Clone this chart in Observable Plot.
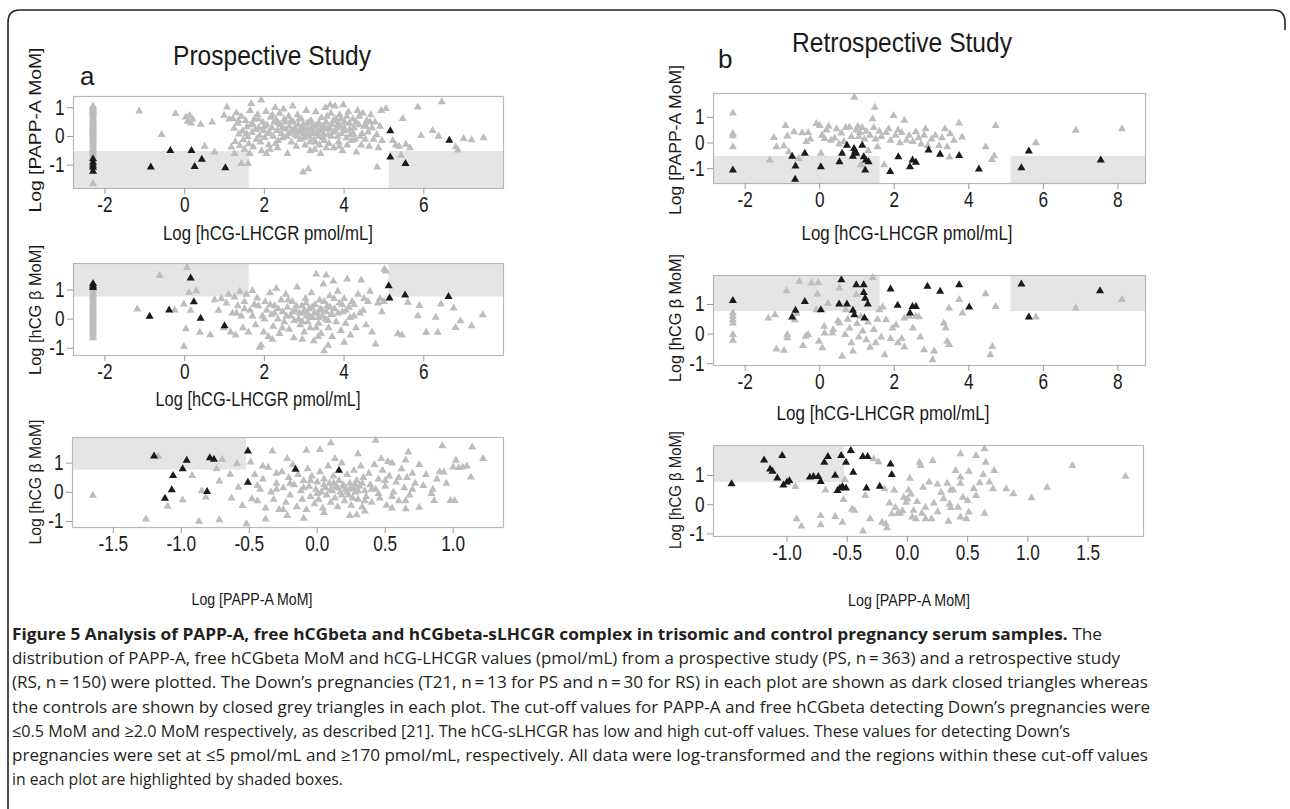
<!DOCTYPE html>
<html><head><meta charset="utf-8">
<script src="https://cdn.jsdelivr.net/npm/d3@7"></script>
<script src="https://cdn.jsdelivr.net/npm/@observablehq/plot@0.6"></script>
<style>
html,body{margin:0;padding:0;background:#fff;}
body{width:1290px;height:809px;overflow:hidden;position:relative;}
svg.overlay{position:absolute;left:0;top:0;pointer-events:none;}
</style></head>
<body>
<div id="root"></div>
<script>
// ---------------- DATA ----------------
// cut-off values (log scale) as read from the shaded boxes
const PAPP_CUT = -0.52;
const HCG_CUT = 0.76;
const LH_LOW = 1.62;
const LH_HIGH = 5.13;

// Tick labels
const lhTicksA = [-2, 0, 2, 4, 6];
const lhTicksB = [-2, 0, 2, 4, 6, 8];
const pappTicksA = [-1.5, -1.0, -0.5, 0.0, 0.5, 1.0];
const pappTicksB = [-1.0, -0.5, 0.0, 0.5, 1.0, 1.5];
const yTicks = [-1, 0, 1];

// Panel a (top): x = Log hCG-LHCGR, y = Log PAPP-A MoM ; controls
const a1Ctrl = [
 [-2.3,1.05],[-2.3,1.0],[-2.3,0.95],[-2.3,0.9],[-2.3,0.85],[-2.3,0.8],[-2.3,0.75],[-2.3,0.7],[-2.3,0.62],[-2.3,0.55],[-2.3,0.5],[-2.3,0.45],[-2.3,0.4],[-2.3,0.35],[-2.3,0.3],[-2.3,0.25],[-2.3,0.2],[-2.3,0.15],[-2.3,0.1],[-2.3,0.05],[-2.3,0],[-2.3,-0.05],[-2.3,-0.1],[-2.3,-0.18],[-2.3,-0.25],[-2.3,-0.3],[-2.3,-0.38],[-2.3,-0.45],[-2.3,-0.52],[-2.3,-0.6],[-2.3,-0.68],[-2.3,-1.63],
 [-1.14,0.88],[-0.58,0.06],[-0.23,0.79],[0.03,0.67],[0.08,0.52],[0.12,0.72],[0.16,0.46],[0.2,0.6],[0.4,0.42],[0.5,-0.35],[0.69,0.5],[0.75,-0.55],[0.99,0.73],[1.06,1.02],[1.12,0.6],[1.17,-0.37],[1.25,-0.6],[1.42,-0.95],[1.59,-0.95],[1.63,-0.6],[1.67,1.14],[1.92,1.26],
 [1.21,0.62],[1.24,0.28],[1.27,-0.18],[1.3,0.82],[1.33,0.45],[1.36,0.08],[1.38,-0.32],[1.42,0.7],[1.45,0.18],[1.47,-0.12],[1.5,-0.45],[1.53,0.55],[1.56,0.33],[1.58,-0.02],[1.61,-0.26],[1.64,0.9],[1.66,0.4],[1.69,0.14],[1.72,-0.36],[1.75,0.6],[1.78,0.24],[1.8,-0.1],[1.83,0.76],[1.86,0.3],[1.88,0.04],[1.9,-0.2],[1.93,-0.5],[1.96,0.5],[1.98,0.2],[2.01,-0.04],[2.04,0.86],[2.06,0.4],[2.09,0.1],[2.11,-0.3],[2.14,-0.45],[2.16,0.66],[2.19,0.3],[2.22,0.0],[2.24,0.5],[2.27,1.0],[2.3,0.56],[2.32,0.2],[2.35,-0.15],[2.38,0.8],[2.4,0.4],[2.43,0.1],[2.46,-0.05],[2.48,0.95],[2.5,0.6],[2.53,0.25],[2.56,0.0],[2.58,-0.6],[2.61,0.7],[2.63,0.35],[2.66,0.15],[2.68,-0.2],[2.71,1.05],[2.73,0.5],[2.76,0.3],[2.78,0.05],[2.8,-0.35],[2.83,0.75],[2.85,0.4],[2.88,0.2],[2.9,-0.1],[2.93,0.6],[2.95,0.3],[2.98,0.1],[3.0,-0.05],[3.02,-0.3],[3.05,0.9],[3.07,0.45],[3.1,0.25],[3.12,0.0],[3.14,-0.2],[3.17,0.55],[3.19,0.3],[3.22,0.15],[3.24,-0.1],[3.26,-0.45],[3.29,0.85],[3.31,0.4],[3.34,0.2],[3.36,0.0],[3.38,-0.3],[3.41,-0.6],[3.43,0.65],[3.46,0.35],[3.48,0.1],[3.5,-0.15],[3.53,1.0],[3.55,0.5],[3.58,0.25],[3.6,0.05],[3.62,-0.25],[3.65,1.1],[3.67,0.8],[3.7,0.4],[3.72,0.15],[3.74,-0.4],[3.77,1.05],[3.79,0.6],[3.82,0.3],[3.84,0.0],[3.86,-0.2],[3.89,0.75],[3.91,0.35],[3.94,0.1],[3.96,-0.5],[3.98,1.1],[4.01,0.5],[4.03,0.2],[4.06,-0.05],[4.08,-0.3],[4.11,0.85],[4.13,0.45],[4.16,0.05],[4.19,-0.15],[4.22,0.6],[4.25,0.3],[4.28,-0.1],[4.31,-0.55],[4.34,0.9],[4.37,0.4],[4.4,0.0],[4.43,-0.3],[4.47,0.8],[4.5,0.35],[4.53,-0.1],[4.57,0.55],[4.6,0.15],[4.63,-0.35],[4.67,0.75],[4.7,0.3],[4.74,-0.1],[4.78,0.5],[4.82,0.05],[4.86,-0.4],[4.9,0.35],[4.95,-0.15],
 [2.97,-1.24],[3.1,-1.13],[4.83,-1.07],[4.93,0.9],[5.05,0.97],[5.47,0.62],[5.3,-0.3],[5.38,-0.35],[5.55,-0.28],[5.65,-0.4],[5.43,-0.66],[5.22,-0.15],[5.85,1.02],[5.93,0.03],[6.22,0.2],[6.37,0.0],[6.45,1.2],[6.8,-0.36],[6.86,-0.48],[7.0,-0.08],[7.2,-0.12],[7.5,-0.05]
];
const a1CtrlDense = [[1.35,0.55],[1.55,0.1],[1.7,0.45],[1.85,0.6],[2.0,0.35],[2.12,0.15],[2.2,0.75],[2.28,-0.25],[2.36,0.45],[2.45,0.3],[2.52,0.5],[2.6,0.1],[2.67,0.55],[2.75,0.2],[2.82,0.0],[2.87,0.6],[2.92,0.15],[2.97,0.4],[3.03,0.2],[3.08,0.05],[3.13,0.5],[3.18,0.1],[3.23,0.35],[3.28,-0.2],[3.33,0.1],[3.37,0.45],[3.42,0.2],[3.47,-0.05],[3.52,0.3],[3.57,0.7],[3.63,0.3],[3.68,0.0],[3.73,0.55],[3.78,0.2],[3.85,0.45],[3.92,0.6],[4.0,0.3],[4.07,0.7],[4.15,0.25],[4.23,0.1],[4.3,0.5],[4.38,0.7],[4.45,0.1],[4.55,0.35],[4.65,0.5],[2.05,-0.6],[2.33,-0.4],[3.15,-0.5],[3.55,-0.4],[3.88,-0.35]];
const a1T21 = [[-2.3,-0.78],[-2.3,-0.9],[-2.3,-1.0],[-2.3,-1.08],[-2.3,-1.22],[-0.85,-1.07],[-0.36,-0.49],[0.17,-0.49],[0.25,-1.05],[0.43,-0.8],[1.02,-1.09],[5.16,0.19],[5.16,-0.72],[5.54,-0.95],[6.64,-0.14]];

// Panel a (middle): x = Log hCG-LHCGR, y = Log hCG beta MoM
const a2Ctrl = [
 [-2.3,1.0],[-2.3,0.92],[-2.3,0.85],[-2.3,0.78],[-2.3,0.7],[-2.3,0.62],[-2.3,0.55],[-2.3,0.48],[-2.3,0.42],[-2.3,0.35],[-2.3,0.28],[-2.3,0.22],[-2.3,0.15],[-2.3,0.08],[-2.3,0.02],[-2.3,-0.05],[-2.3,-0.12],[-2.3,-0.2],[-2.3,-0.28],[-2.3,-0.35],[-2.3,-0.42],[-2.3,-0.5],[-2.3,-0.58],[-2.3,-0.65],
 [-1.19,0.34],[-0.63,1.49],[-0.25,0.31],[-0.02,-0.95],[0.03,-0.34],[0.06,1.77],[-0.02,0.51],[0.11,0.91],[0.29,0.97],[0.15,0.3],[0.38,-0.46],[0.64,-0.54],[0.75,0.66],[0.85,0.3],[0.92,0.7],[0.98,-0.3],[1.05,0.55],[1.1,0.85],[1.15,-0.45],[1.2,0.2],[1.25,0.75],[1.28,-0.55],[1.33,0.45],[1.38,0.95],[1.42,0.1],[1.46,-0.3],[1.5,0.6],[1.55,0.85],[1.6,-0.45],[1.64,0.3],[1.7,0.98],[1.75,0.5],[1.78,-0.2],[1.82,0.72],[1.88,-0.97],[1.92,-0.9],[1.95,0.1],[1.98,-0.45],[2.02,0.6],[2.06,0.3],[2.1,-0.6],[2.14,0.9],[2.18,0.15],[2.22,-0.25],[2.26,0.45],[2.3,1.05],[2.34,0.0],[2.38,-0.5],[2.42,0.65],[2.46,0.25],[2.5,-0.1],[2.54,0.85],[2.58,0.4],[2.62,-0.35],[2.66,0.1],[2.7,0.6],[2.74,-0.65],[2.78,0.3],[2.82,1.1],[2.86,0.0],[2.9,-0.2],[2.94,0.45],[2.97,0.2],[3.0,-0.45],[3.03,0.7],[3.06,0.1],[3.09,-0.1],[3.12,0.35],[3.15,-0.3],[3.18,0.9],[3.21,0.05],[3.24,-0.75],[3.27,0.5],[3.3,1.54],[3.33,0.2],[3.36,-0.15],[3.39,0.65],[3.42,-0.5],[3.45,0.3],[3.48,1.2],[3.5,-1.09],[3.53,0.0],[3.55,1.51],[3.58,0.45],[3.61,-0.3],[3.64,0.8],[3.67,0.15],[3.7,-0.6],[3.73,1.3],[3.76,0.35],[3.8,-0.1],[3.84,0.95],[3.88,0.55],[3.92,-0.4],[3.96,0.25],[4.0,0.7],[4.04,-0.15],[4.08,1.37],[4.12,0.4],[4.16,-0.55],[4.2,0.6],[4.25,0.1],[4.3,-0.3],[4.35,0.85],[4.43,1.34],[4.48,0.3],[4.55,-0.2],[4.6,0.6],[4.65,0.95],[4.7,-0.45],[4.79,-0.86],[4.85,0.55],[4.9,0.7],[4.95,0.25],[5.01,1.71],[5.05,1.65],[5.0,0.6],[5.35,-0.51],[5.45,-0.55],[5.6,0.57],[5.89,0.46],[5.85,0.11],[6.06,-0.46],[6.3,0.06],[6.35,-0.46],[6.43,0.51],[6.75,0.38],[6.92,-0.06],[6.8,-0.29],[7.2,-0.23],[7.48,0.14]
];
const a2CtrlDense = [[1.3,0.2],[1.5,0.35],[1.7,0.1],[1.85,0.45],[2.0,0.0],[2.15,0.5],[2.25,0.2],[2.35,0.35],[2.45,-0.3],[2.55,0.1],[2.6,0.65],[2.7,0.25],[2.75,-0.05],[2.8,0.45],[2.88,0.2],[2.95,-0.1],[3.0,0.3],[3.05,0.55],[3.1,0.15],[3.15,0.05],[3.2,0.4],[3.25,0.2],[3.3,-0.3],[3.35,0.05],[3.4,0.35],[3.45,0.1],[3.5,0.6],[3.55,0.25],[3.6,-0.05],[3.65,0.4],[3.7,0.15],[3.75,0.7],[3.85,0.2],[3.95,0.5],[4.05,0.3],[4.15,0.05],[4.25,0.5],[4.4,0.2],[4.5,0.7],[2.2,-0.7],[2.95,-0.7],[3.35,-0.6],[3.6,-0.9],[4.0,-0.8]];
const a2T21 = [[-2.3,1.22],[-2.3,1.14],[-2.3,1.08],[-0.88,0.09],[-0.39,0.31],[0.15,1.41],[0.23,0.59],[0.4,0.02],[1.0,-0.23],[5.12,1.14],[5.14,0.72],[5.53,0.82],[6.62,0.77]];

// Panel a (bottom): x = Log PAPP-A MoM, y = Log hCG beta MoM
const a3Ctrl = [
 [-1.65,-0.11],[-1.26,-0.92],[-1.17,1.23],[-1.1,-0.49],[-0.99,-0.26],[-0.92,0.57],[-0.87,-1.0],[-0.85,0.05],[-0.82,-0.17],[-0.74,0.8],[-0.72,-0.95],[-0.72,0.38],[-0.7,1.13],[-0.64,0.61],[-0.63,-0.2],[-0.59,0.98],[-0.58,0.17],[-0.55,-0.46],[-0.52,-1.09],[-0.49,1.03],[-0.48,-0.23],[-0.44,0.23],[-0.38,-0.92],[-0.33,1.41],[-0.3,0.65],[-0.22,1.15],[-0.22,-0.8],[-0.1,-0.9],[-0.08,1.44],[0.02,1.46],[0.13,1.15],[0.1,1.69],[0.24,-0.8],[0.29,-0.78],[0.3,1.32],[0.43,1.78],[0.47,1.15],[0.52,1.05],[0.67,1.38],[0.65,-0.57],[0.75,-0.52],[0.78,0.23],[0.84,-0.05],[0.86,-0.29],[0.92,1.59],[0.98,-0.29],[1.01,-0.29],[1.02,1.09],[1.0,0.86],[1.04,0.84],[1.07,0.86],[1.1,0.9],[1.13,0.52],[1.14,1.55],[1.22,1.15],[0.93,0.69],[0.88,0.45],[0.95,0.3],
 [-0.46,0.6],[-0.44,-0.3],[-0.42,0.1],[-0.4,0.45],[-0.38,-0.55],[-0.36,0.85],[-0.34,0.0],[-0.32,-0.25],[-0.3,0.3],[-0.28,-0.6],[-0.26,0.7],[-0.25,0.15],[-0.23,-0.35],[-0.21,0.5],[-0.2,-0.1],[-0.18,0.95],[-0.17,0.25],[-0.15,-0.5],[-0.14,0.6],[-0.12,0.05],[-0.11,-0.25],[-0.1,0.4],[-0.08,-0.6],[-0.07,0.8],[-0.06,0.2],[-0.05,-0.15],[-0.04,0.55],[-0.02,-0.4],[-0.01,0.1],[0.0,0.35],[0.01,-0.25],[0.02,0.7],[0.03,0.0],[0.04,-0.55],[0.05,0.45],[0.06,0.15],[0.07,-0.1],[0.08,0.9],[0.09,0.3],[0.1,-0.35],[0.11,0.05],[0.12,0.55],[0.13,-0.2],[0.14,0.2],[0.15,-0.5],[0.16,0.4],[0.17,0.0],[0.18,1.0],[0.19,0.25],[0.2,-0.3],[0.21,0.1],[0.22,0.6],[0.23,-0.1],[0.24,0.3],[0.25,-0.45],[0.26,0.15],[0.27,0.75],[0.28,0.0],[0.29,0.4],[0.3,-0.25],[0.31,0.2],[0.32,0.9],[0.33,-0.5],[0.34,0.5],[0.35,0.05],[0.36,-0.15],[0.38,0.65],[0.39,0.25],[0.4,-0.35],[0.42,0.95],[0.43,0.1],[0.45,0.45],[0.46,-0.2],[0.48,0.75],[0.5,0.2],[0.51,-0.45],[0.53,0.55],[0.55,1.0],[0.56,0.0],[0.58,0.35],[0.6,-0.3],[0.62,0.8],[0.64,0.15],[0.66,0.5],[0.68,-0.1],[0.7,0.65],[0.72,0.3]
];
const a3CtrlDense = [[-0.3,0.1],[-0.2,0.3],[-0.1,0.15],[-0.05,0.4],[0.0,-0.05],[0.05,0.25],[0.1,0.1],[0.12,0.3],[0.15,0.15],[0.18,-0.1],[0.2,0.2],[0.22,0.0],[0.24,0.1],[0.26,-0.2],[0.28,0.25],[0.3,0.05],[0.33,0.3],[0.35,-0.3],[0.4,0.1],[0.45,-0.05],[0.5,0.4],[0.55,-0.15],[0.6,0.5],[0.65,-0.3],[0.7,0.1],[0.8,0.6],[0.85,0.1],[0.9,0.7],[-0.25,-0.6],[0.05,-0.7],[0.35,-0.65],[0.55,-0.55],[-0.4,0.9],[0.75,0.95],[0.65,1.1]];
const a3T21 = [[-1.2,1.24],[-1.12,-0.21],[-1.07,0.08],[-1.06,0.57],[-0.99,0.8],[-0.96,1.09],[-0.81,0.02],[-0.79,1.18],[-0.76,1.13],[-0.51,0.34],[-0.51,1.41],[-0.16,0.78],[0.16,0.75]];

// Panel b (top)
const b1Ctrl = [
 [-2.33,1.16],[-2.33,0.36],[-2.33,0.28],[-2.33,-0.15],[-1.34,-0.67],[-1.23,0.21],[-1.16,-0.15],[-0.92,0.68],[-0.96,-0.12],[-0.87,0.27],[-0.83,-0.35],[-0.69,0.43],[-0.56,-0.61],[-0.47,0.39],[-0.31,0.4],[-0.36,0.05],[-0.25,0.15],[-0.09,0.75],[0.0,0.68],[0.03,-0.41],[0.06,0.3],[0.13,0.17],[0.18,0.5],[0.24,0.65],[0.3,0.1],[0.4,0.19],[0.45,0.55],[0.52,-0.05],[0.58,0.38],[0.65,0.05],[0.7,0.6],[0.8,0.62],[0.85,0.25],[0.93,1.78],[0.98,0.5],[1.02,0.65],[1.05,0.25],[1.08,0.4],[1.11,-0.86],[1.14,0.6],[1.2,0.15],[1.25,0.45],[1.3,-0.3],[1.35,0.3],[1.42,0.94],[1.45,0.6],[1.48,1.39],[1.5,0.15],[1.55,-0.15],[1.6,0.45],[1.65,0.25],[1.73,-0.86],[1.78,0.4],[1.85,0.55],[1.9,0.1],[1.98,1.07],[2.03,0.3],[2.1,0.5],[2.15,0.0],[2.2,0.4],[2.27,0.88],[2.33,0.1],[2.4,0.3],[2.5,0.05],[2.58,0.43],[2.65,0.2],[2.72,-0.05],[2.8,0.3],[2.84,0.55],[2.9,-0.1],[3.0,0.15],[3.1,0.3],[3.2,-0.1],[3.28,0.2],[3.36,0.55],[3.42,-0.15],[3.5,0.35],[3.48,-0.55],[3.6,0.1],[3.74,0.77],[3.82,0.23],[4.45,-0.15],[4.62,-0.65],[4.68,-0.5],[4.72,0.68],[5.8,0.0],[6.87,0.49],[8.11,0.55]
];
const b1T21 = [[-2.33,-1.06],[-0.74,-0.52],[-0.65,-0.9],[-0.66,-1.42],[-0.4,-0.41],[0.03,-0.93],[0.53,-0.74],[0.6,-0.41],[0.73,-0.09],[0.89,-0.52],[0.92,-0.22],[0.95,-0.32],[0.98,-0.41],[1.14,-0.09],[1.18,-0.54],[1.24,-0.67],[1.31,-0.74],[1.22,-1.06],[1.89,-1.12],[2.11,-0.54],[2.42,-0.93],[2.49,-0.67],[2.58,-0.76],[2.92,-0.28],[3.23,-0.45],[3.74,-0.49],[4.27,-1.02],[5.41,-0.97],[5.61,-0.32],[7.54,-0.67]];

// Panel b (middle)
const b2Ctrl = [
 [-2.33,0.71],[-2.33,0.6],[-2.33,0.48],[-2.33,0.37],[-2.33,-0.02],[-2.33,-0.21],[-1.38,0.54],[-1.2,0.65],[-1.16,-0.51],[-0.96,-0.55],[-0.89,1.46],[-0.87,-0.02],[-0.87,-0.13],[-0.67,0.48],[-0.62,0.7],[-0.55,1.78],[-0.45,-0.39],[-0.38,-0.08],[-0.31,-0.02],[-0.22,1.72],[-0.04,1.74],[-0.06,1.35],[-0.09,0.82],[-0.02,-0.25],[0.07,-0.47],[0.12,0.26],[0.13,0.03],[0.22,1.04],[0.34,0.03],[0.36,0.15],[0.49,0.45],[0.53,0.37],[0.53,1.55],[0.6,-0.75],[0.68,-0.02],[0.7,0.82],[0.75,0.5],[0.8,0.2],[0.85,-0.3],[0.89,-0.58],[0.98,1.33],[1.0,0.35],[1.05,-0.1],[1.1,0.6],[1.15,0.1],[1.25,-0.2],[1.3,0.4],[1.35,-0.45],[1.42,1.91],[1.45,0.15],[1.5,-0.3],[1.55,0.5],[1.6,0.82],[1.65,-0.1],[1.69,0.91],[1.74,-0.7],[1.78,0.48],[1.9,-0.15],[1.95,0.2],[2.05,0.3],[2.1,-0.3],[2.2,-0.15],[2.27,0.54],[2.27,-0.44],[2.4,0.6],[2.5,0.2],[2.58,0.6],[2.66,0.58],[2.7,-0.1],[2.8,-0.53],[3.03,-0.87],[3.07,-0.58],[3.38,0.2],[3.33,0.37],[3.42,-0.25],[3.47,-0.36],[3.47,0.88],[3.74,1.16],[3.83,0.71],[4.45,1.36],[4.58,-0.7],[4.63,-0.42],[4.72,0.93],[5.8,0.57],[6.87,0.88],[8.11,1.16]
];
const b2T21 = [[-2.33,1.13],[-0.74,0.57],[-0.65,0.8],[-0.4,1.1],[0.03,0.82],[0.52,1.01],[0.58,1.83],[0.73,1.01],[0.89,0.8],[0.93,0.65],[0.98,1.66],[1.18,1.66],[1.18,1.4],[1.22,1.21],[1.29,1.01],[1.2,0.54],[1.9,1.52],[2.09,0.97],[2.42,0.71],[2.49,0.93],[2.58,0.93],[2.89,1.61],[3.23,1.44],[3.74,1.66],[4.01,0.91],[5.41,1.69],[5.61,0.57],[7.52,1.46]];

// Panel b (bottom)
const b3Ctrl = [
 [-0.92,-0.49],[-0.88,-0.74],[-0.93,0.62],[-0.72,-0.38],[-0.72,-0.69],[-0.68,0.5],[-0.6,-0.41],[-0.54,-0.61],[-0.53,0.17],[-0.52,0.86],[-0.46,-0.15],[-0.44,-0.2],[-0.37,-0.91],[-0.35,0.31],[-0.31,-0.49],[-0.28,1.57],[-0.24,1.47],[-0.21,-0.61],[-0.19,0.54],[-0.18,-0.66],[-0.17,-0.8],[-0.13,-0.32],[-0.11,0.5],[-0.08,-0.3],[-0.04,-0.21],[-0.03,0.25],[-0.01,0.08],[0.0,0.2],[0.02,0.9],[0.01,0.5],[0.03,0.36],[0.04,-0.43],[0.07,-0.49],[0.1,1.45],[0.11,1.34],[0.13,0.59],[0.15,-0.09],[0.15,-0.49],[0.18,0.77],[0.2,-0.49],[0.21,1.51],[0.25,0.7],[0.28,0.42],[0.33,0.73],[0.35,0.02],[0.36,-0.1],[0.34,-0.57],[0.36,0.5],[0.38,0.5],[0.4,1.17],[0.42,-0.09],[0.44,0.73],[0.44,0.94],[0.44,1.74],[0.44,-0.43],[0.49,-0.49],[0.5,0.14],[0.51,-0.26],[0.51,1.14],[0.57,0.31],[0.57,1.68],[0.63,1.03],[0.64,1.91],[0.65,1.45],[0.64,-0.3],[0.68,0.77],[0.71,0.54],[0.72,1.17],[0.82,0.54],[0.88,0.37],[1.03,0.23],[1.16,0.59],[1.37,1.34],[1.81,0.97],
 [-0.1,-0.1],[-0.06,-0.3],[0.05,-0.2],[0.08,0.1],[0.12,-0.3],[0.22,0.05],[0.25,-0.25],[0.3,0.2],[-0.15,0.05],[0.46,0.25],[0.55,0.55],[0.6,0.75]
];
const b3T21 = [[-1.46,0.71],[-1.19,1.53],[-1.14,1.22],[-1.12,1.14],[-1.08,0.91],[-1.04,1.68],[-1.03,0.67],[-1.0,0.77],[-0.98,0.82],[-0.81,0.94],[-0.78,0.96],[-0.74,0.96],[-0.72,0.79],[-0.69,1.45],[-0.66,1.65],[-0.6,1.0],[-0.58,0.48],[-0.56,0.57],[-0.54,0.62],[-0.51,0.57],[-0.55,1.68],[-0.51,1.45],[-0.47,1.85],[-0.45,1.11],[-0.37,1.65],[-0.33,1.65],[-0.34,0.57],[-0.23,0.63],[-0.14,1.39],[-0.13,1.03]];

// ---------------- DRAWING ----------------
const SANS = "'Liberation Sans',Arial,sans-serif";
const fmtInt = d => (d < 0 ? "-" : "") + Math.abs(d);
const fmt1 = d => (d < 0 ? "-" : "") + Math.abs(d).toFixed(1);

function shades(kind, xd, yd) {
  if (kind === "papp-lh") return [
    {x1: xd[0], x2: LH_LOW, y1: yd[0], y2: PAPP_CUT},
    {x1: LH_HIGH, x2: xd[1], y1: yd[0], y2: PAPP_CUT}];
  if (kind === "hcg-lh") return [
    {x1: xd[0], x2: LH_LOW, y1: HCG_CUT, y2: yd[1]},
    {x1: LH_HIGH, x2: xd[1], y1: HCG_CUT, y2: yd[1]}];
  return [{x1: xd[0], x2: PAPP_CUT, y1: HCG_CUT, y2: yd[1]}];
}

const panels = [
  {L:73, T:96, R:503, B:188, xd:[-2.79,8.0], yd:[-1.81,1.39], xt:lhTicksA, xf:fmtInt, ctrl:a1Ctrl.concat(a1CtrlDense), t21:a1T21, kind:"papp-lh"},
  {L:73, T:263, R:503, B:355, xd:[-2.79,8.0], yd:[-1.25,1.91], xt:lhTicksA, xf:fmtInt, ctrl:a2Ctrl.concat(a2CtrlDense), t21:a2T21, kind:"hcg-lh"},
  {L:72, T:437, R:503, B:527, xd:[-1.80,1.37], yd:[-1.21,1.88], xt:pappTicksA, xf:fmt1, ctrl:a3Ctrl.concat(a3CtrlDense), t21:a3T21, kind:"hcg-papp"},
  {L:713, T:93, R:1145, B:183, xd:[-2.85,8.74], yd:[-1.58,1.93], xt:lhTicksB, xf:fmtInt, ctrl:b1Ctrl, t21:b1T21, kind:"papp-lh"},
  {L:713, T:275, R:1145, B:365, xd:[-2.85,8.74], yd:[-1.06,1.98], xt:lhTicksB, xf:fmtInt, ctrl:b2Ctrl, t21:b2T21, kind:"hcg-lh"},
  {L:713, T:445, R:1143, B:536, xd:[-1.61,1.96], yd:[-1.09,2.03], xt:pappTicksB, xf:fmt1, ctrl:b3Ctrl, t21:b3T21, kind:"hcg-papp"}
];

function condense(el, factor) {
  const w = el.getComputedTextLength();
  if (w > 0) { el.setAttribute("textLength", (w * factor).toFixed(1)); el.setAttribute("lengthAdjust", "spacingAndGlyphs"); }
}

const root = document.getElementById("root");
for (const p of panels) {
  const ml = 45, mt = 12, mr = 15, mb = 40;
  const svg = Plot.plot({
    width: p.R - p.L + ml + mr,
    height: p.B - p.T + mt + mb,
    marginLeft: ml, marginTop: mt, marginRight: mr, marginBottom: mb,
    style: {background: "transparent", fontFamily: SANS, overflow: "visible"},
    x: {domain: p.xd},
    y: {domain: p.yd},
    marks: [
      Plot.rect(shades(p.kind, p.xd, p.yd), {x1: "x1", x2: "x2", y1: "y1", y2: "y2", fill: "#e5e5e5"}),
      Plot.dot(p.ctrl, {x: d => d[0], y: d => d[1], symbol: "triangle", r: 3, fill: "#bdbdbd"}),
      Plot.dot(p.t21, {x: d => d[0], y: d => d[1], symbol: "triangle", r: 3, fill: "#1a1a1a"}),
      Plot.frame({stroke: "#b9b9b9", strokeWidth: 1.2}),
      Plot.axisX({ticks: p.xt, tickFormat: p.xf, tickSize: 6, tickPadding: 2, stroke: "#999", fill: "#1a1a1a", fontSize: 21.5, label: null}),
      Plot.axisY({ticks: yTicks, tickFormat: fmtInt, tickSize: 6, tickPadding: 3, stroke: "#999", fill: "#1a1a1a", fontSize: 21.5, label: null})
    ]
  });
  svg.style.position = "absolute";
  svg.style.left = (p.L - ml) + "px";
  svg.style.top = (p.T - mt) + "px";
  root.appendChild(svg);
  svg.querySelectorAll('g[aria-label$="tick label"] text').forEach(t => condense(t, 0.8));
}

// Text overlay (titles, axis labels, caption, frame line)
const ns = "http://www.w3.org/2000/svg";
const ov = document.createElementNS(ns, "svg");
ov.setAttribute("class", "overlay");
ov.setAttribute("width", 1290); ov.setAttribute("height", 809);
root.appendChild(ov);
function txt(str, x, y, opts = {}) {
  const t = document.createElementNS(ns, "text");
  t.setAttribute("x", x); t.setAttribute("y", y);
  t.setAttribute("font-family", opts.family || SANS);
  t.setAttribute("font-size", opts.size || 19);
  t.setAttribute("fill", opts.fill || "#1a1a1a");
  t.setAttribute("text-anchor", opts.anchor || "middle");
  if (opts.rotate) t.setAttribute("transform", `rotate(-90 ${x} ${y})`);
  t.textContent = str;
  ov.appendChild(t);
  if (opts.len) { t.setAttribute("textLength", opts.len); t.setAttribute("lengthAdjust", "spacingAndGlyphs"); }
  return t;
}
const border = document.createElementNS(ns, "path");
border.setAttribute("d", "M8 809 L8 22 Q8 10 20 10 L1273 10 Q1285 10 1285 22 L1285 30");
border.setAttribute("fill", "none"); border.setAttribute("stroke", "#222"); border.setAttribute("stroke-width", 1.6);
ov.appendChild(border);

txt("Prospective Study", 272, 65, {size: 28, len: 198});
txt("Retrospective Study", 902, 52, {size: 28, len: 220});
txt("a", 80, 85, {size: 26, anchor: "start"});
txt("b", 718, 68, {size: 26, anchor: "start"});

const lhLabel = "Log [hCG-LHCGR pmol/mL]";
const pappLabel = "Log [PAPP-A MoM]";
const hcgLabel = "Log [hCG \u03B2 MoM]";
txt(lhLabel, 268, 240, {size: 20, len: 210});
txt(lhLabel, 258, 406, {size: 20, len: 205});
txt(pappLabel, 252, 605, {size: 17, len: 121});
txt(lhLabel, 907, 240, {size: 20, len: 211});
txt(lhLabel, 883, 420, {size: 20, len: 213});
txt(pappLabel, 909, 606, {size: 17, len: 122});

txt(pappLabel, 41, 130, {size: 17, rotate: true, len: 165});
txt(hcgLabel, 41, 310, {size: 17, rotate: true, len: 130});
txt(hcgLabel, 41, 482, {size: 17, rotate: true, len: 125});
txt(pappLabel, 681, 140, {size: 17, rotate: true, len: 150});
txt(hcgLabel, 681, 318, {size: 17, rotate: true, len: 128});
txt(hcgLabel, 681, 490, {size: 17, rotate: true, len: 118});

// Caption
const CAP = "'Open Sans','Noto Sans',sans-serif";
const capLines = [
  [["Figure 5 Analysis of PAPP-A, free hCGbeta and hCGbeta-sLHCGR complex in trisomic and control pregnancy serum samples.", "bold"], [" The", "normal"]],
  [["distribution of PAPP-A, free hCGbeta MoM and hCG-LHCGR values (pmol/mL) from a prospective study (PS, n\u2009=\u2009363) and a retrospective study", "normal"]],
  [["(RS, n\u2009=\u2009150) were plotted. The Down\u2019s pregnancies (T21, n\u2009=\u200913 for PS and n\u2009=\u200930 for RS) in each plot are shown as dark closed triangles whereas", "normal"]],
  [["the controls are shown by closed grey triangles in each plot. The cut-off values for PAPP-A and free hCGbeta detecting Down\u2019s pregnancies were", "normal"]],
  [["\u22640.5 MoM and \u22652.0 MoM respectively, as described [21]. The hCG-sLHCGR has low and high cut-off values. These values for detecting Down\u2019s", "normal"]],
  [["pregnancies were set at \u22645 pmol/mL and \u2265170 pmol/mL, respectively. All data were log-transformed and the regions within these cut-off values", "normal"]],
  [["in each plot are highlighted by shaded boxes.", "normal"]]
];
const capEnds = [1102, 1120, 1148, 1150, 1070, 1148, 343];
capLines.forEach((line, i) => {
  const t = document.createElementNS(ns, "text");
  t.setAttribute("x", 12); t.setAttribute("y", 640 + i * 24.2);
  t.setAttribute("font-family", CAP); t.setAttribute("font-size", 16.8);
  t.setAttribute("fill", "#231f20");
  for (const [s, w] of line) {
    const ts = document.createElementNS(ns, "tspan");
    ts.setAttribute("font-weight", w);
    ts.textContent = s;
    t.appendChild(ts);
  }
  t.setAttribute("textLength", capEnds[i] - 12);
  t.setAttribute("lengthAdjust", "spacingAndGlyphs");
  ov.appendChild(t);
});
</script>
</body></html>
